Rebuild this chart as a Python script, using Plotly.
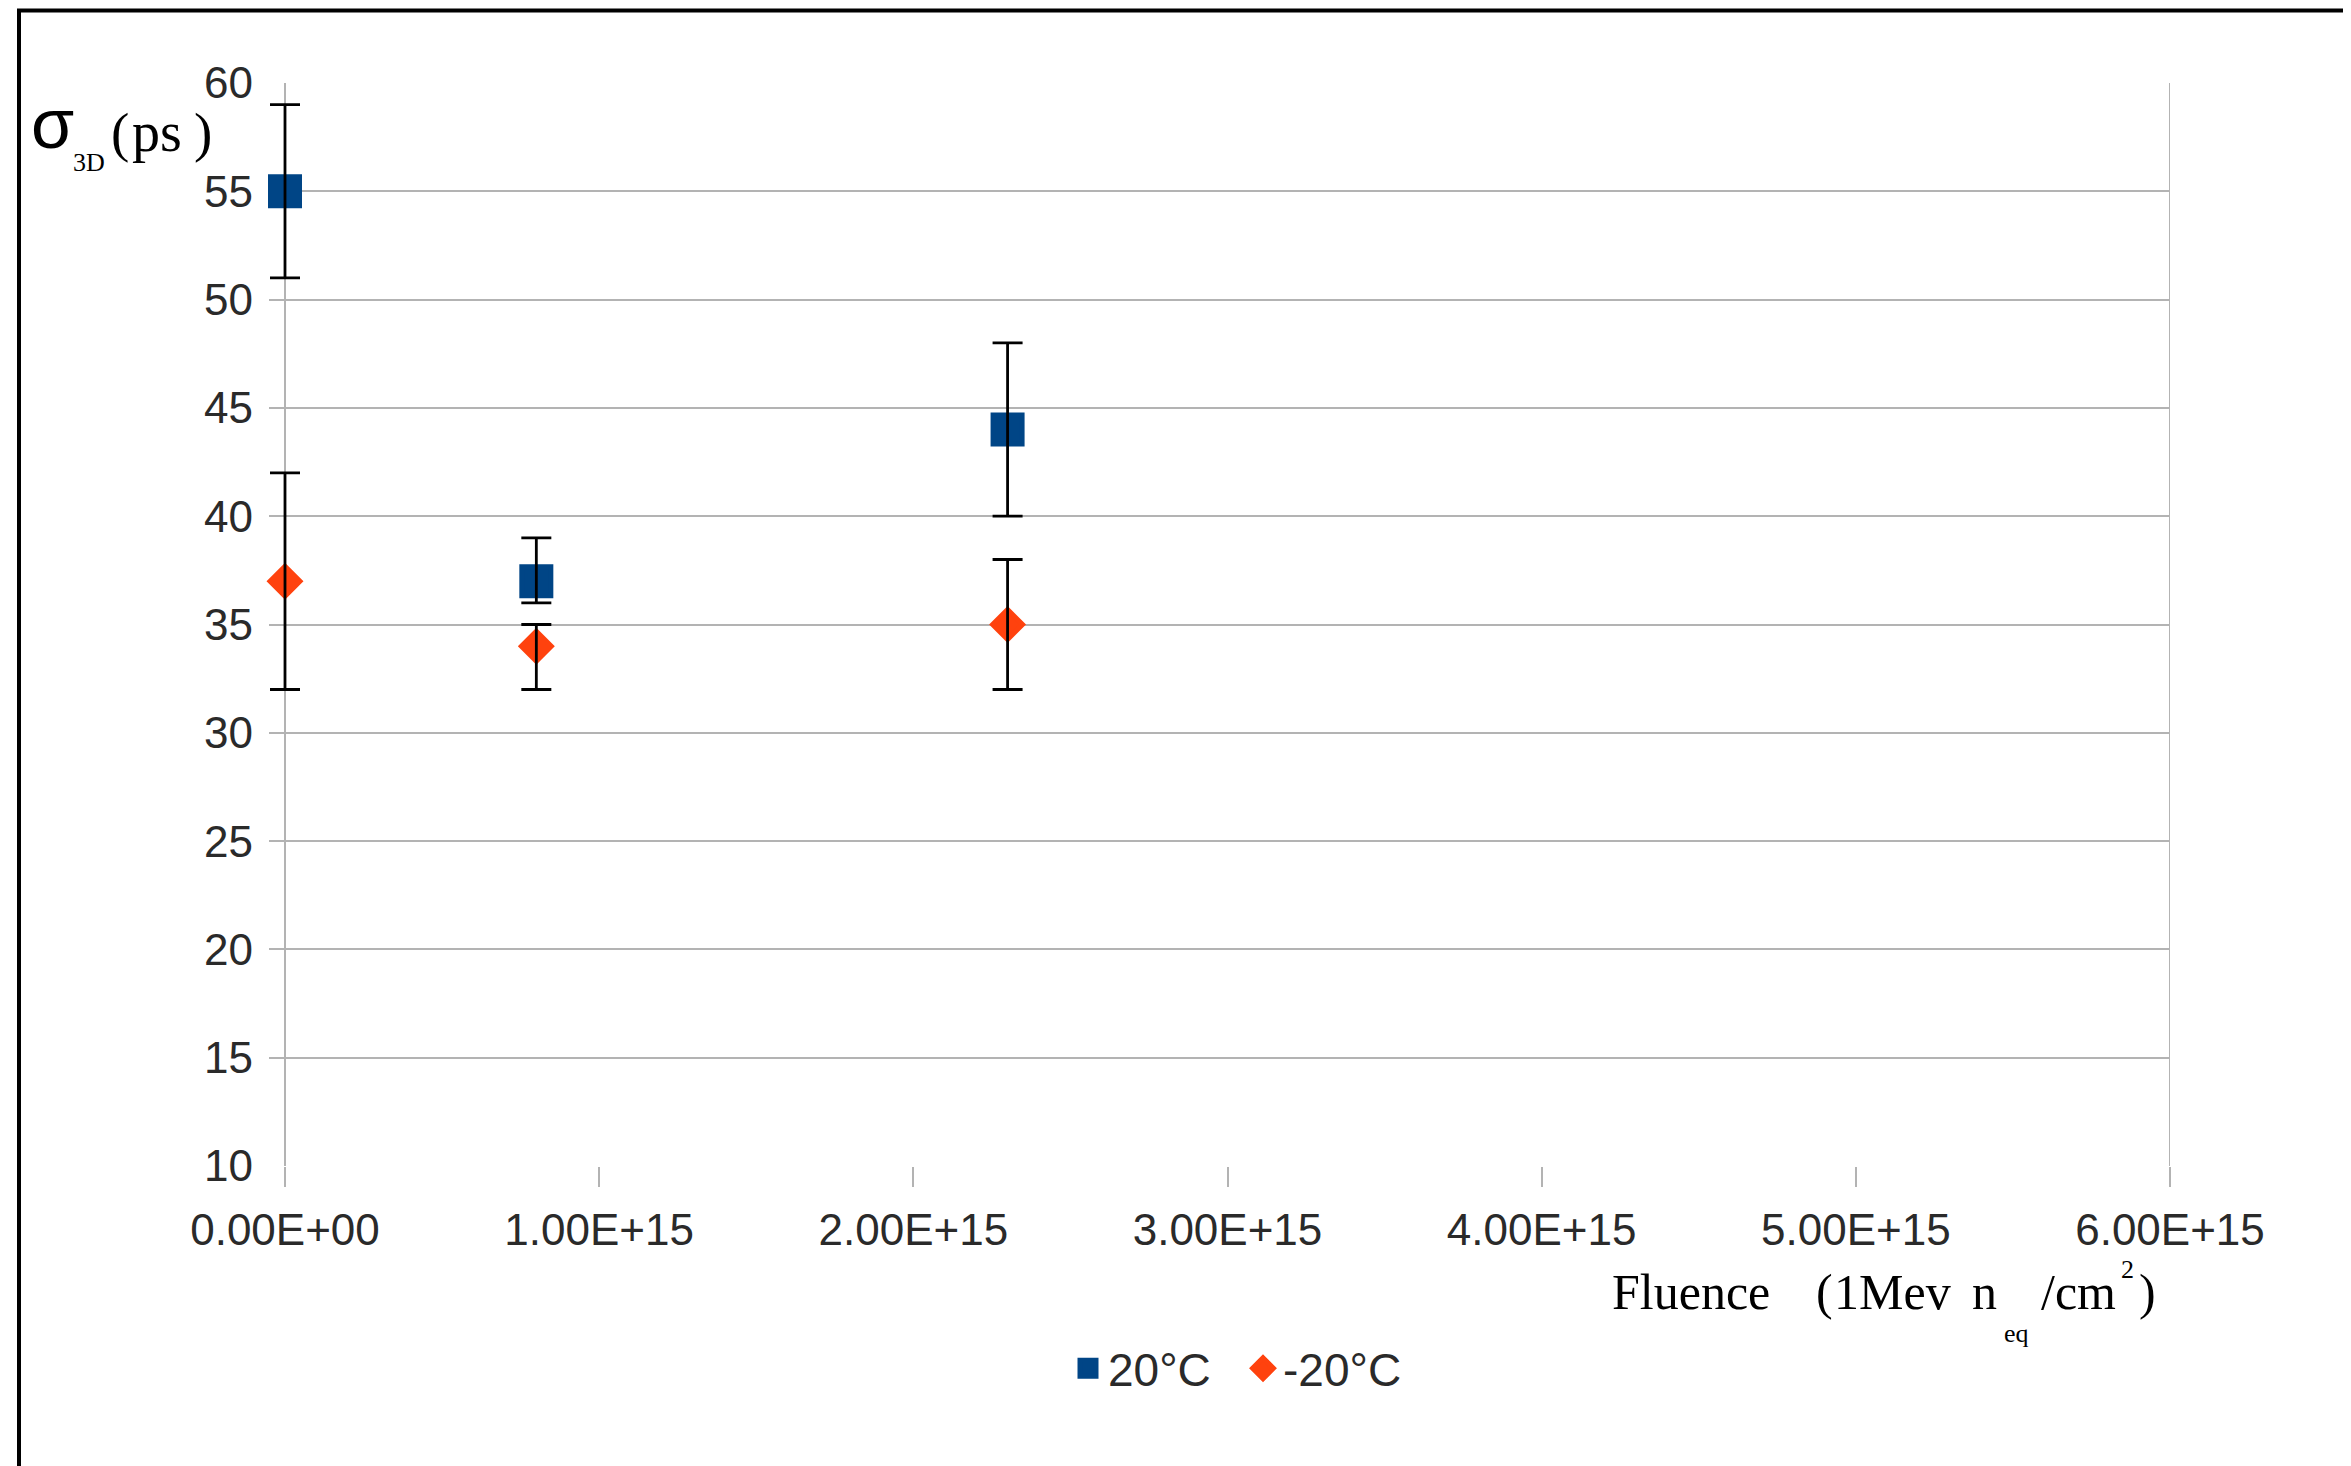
import plotly.graph_objects as go

# ---- data ----
fluence = [0.0, 0.8e15, 2.3e15]
sigma_20 = [55, 37, 44]
err_20_plus = [4, 2, 4]
err_20_minus = [4, 1, 4]
sigma_m20 = [37, 34, 35]
err_m20_plus = [5, 1, 3]
err_m20_minus = [5, 2, 3]
series_names = ["20°C", "-20°C"]
x_min, x_max = 0, 6e15
x_tickvals = [0, 1e15, 2e15, 3e15, 4e15, 5e15, 6e15]
x_ticktext = ["0.00E+00", "1.00E+15", "2.00E+15", "3.00E+15", "4.00E+15", "5.00E+15", "6.00E+15"]
y_min, y_max = 10, 60
y_tickvals = [10, 15, 20, 25, 30, 35, 40, 45, 50, 55, 60]

W, H = 2351, 1466
OFF = 8                       # page body margin
PL, PR, PT, PB = 285, 2170, 82.5, 1166.5   # axes box edges (page px)
PAD = 16                      # gridlines run PAD px left of the y axis (acts as outside ticks)
AL = PL - PAD
L = AL - OFF
R = W - (PR - OFF)
T = PT - OFF
B = H - (PB - OFF)
AW, PH = PR - AL, PB - PT

def px(x):
    return (x - AL) / AW

def py(y):
    return (PB - y) / PH

dpp = (x_max - x_min) / (PR - PL)     # data units per pixel
x_range = [x_min - PAD * dpp, x_max]

BLUE = "#004586"
RED = "#ff420e"
GRID = "#b3b3b3"
TXT = "#2a2a2a"

fig = go.Figure()
fig.add_trace(go.Scatter(
    x=fluence, y=sigma_20, mode="markers", name=series_names[0], cliponaxis=False,
    marker=dict(symbol="square", size=29, color=BLUE, line=dict(color=BLUE, width=5)),
))
fig.add_trace(go.Scatter(
    x=fluence, y=sigma_m20, mode="markers", name=series_names[1], cliponaxis=False,
    marker=dict(symbol="diamond", size=23, color=RED, line=dict(color=RED, width=5)),
))
# error bars drawn on top of the markers
for ys, ep, em in [(sigma_20, err_20_plus, err_20_minus), (sigma_m20, err_m20_plus, err_m20_minus)]:
    fig.add_trace(go.Scatter(
        x=fluence, y=ys, mode="markers", showlegend=False, hoverinfo="skip",
        marker=dict(size=1, opacity=0),
        error_y=dict(type="data", array=ep, arrayminus=em, symmetric=False,
                     color="black", thickness=2.8, width=15),
    ))

fig.update_layout(
    width=W, height=H,
    margin=dict(l=L, r=R, t=T, b=B, autoexpand=False),
    paper_bgcolor="white", plot_bgcolor="white",
    font=dict(family="Liberation Sans", color=TXT, size=44),
    legend=dict(orientation="h", x=px(1068), xanchor="left", y=py(1369), yanchor="middle",
                font=dict(size=46, family="Liberation Sans", color=TXT),
                tracegroupgap=0, itemwidth=30, entrywidth=130),
    xaxis=dict(
        range=x_range, tickvals=x_tickvals, ticktext=x_ticktext,
        showgrid=False, showline=False,
        zeroline=True, zerolinecolor=GRID, zerolinewidth=2,
        ticks="outside", ticklen=20, tickwidth=2, tickcolor=GRID,
        tickfont=dict(size=44, color=TXT), ticklabelstandoff=5,
    ),
    yaxis=dict(
        range=[y_min, y_max], tickvals=y_tickvals,
        showgrid=True, gridcolor=GRID, gridwidth=2,
        zeroline=False, showline=False, ticks="",
        tickfont=dict(size=44, color=TXT), ticklabelstandoff=15,
    ),
)

# right border of the axes box
fig.add_shape(type="line", xref="x", yref="y", x0=x_max, x1=x_max, y0=y_min, y1=y_max,
              line=dict(color=GRID, width=2), layer="between")

# outer black frame (top and left edges visible)
fig.add_shape(type="rect", xref="paper", yref="paper",
              x0=px(19), x1=px(2420), y0=py(10), y1=py(1540),
              line=dict(color="black", width=4), layer="above")

SERIF = "Liberation Serif"
SANS = "Liberation Sans"

def label(text, x_left, y_center, size, family):
    fig.add_annotation(text=text, xref="paper", yref="paper",
                       x=px(x_left), y=py(y_center), xanchor="left", yanchor="middle",
                       showarrow=False, font=dict(size=size, family=family, color="black"),
                       borderpad=0)

# y-axis title pieces
label("σ", 30, 124, 70, SANS)
label("3D", 72, 162, 26, SERIF)
label("(", 110, 132, 55, SERIF)
label("ps", 131, 132, 56, SERIF)
label(")", 193, 132, 55, SERIF)

# x-axis title pieces
XB = 1293
label("Fluence", 1611, XB, 50, SERIF)
label("(", 1815, XB, 50, SERIF)
label("1Mev", 1833, XB, 50, SERIF)
label("n", 1971, XB, 50, SERIF)
label("eq", 2003, 1334, 26, SERIF)
label("/cm", 2040, XB, 50, SERIF)
label("2", 2120, 1270, 26, SERIF)
label(")", 2138, XB, 50, SERIF)

fig.write_html("out.html")
